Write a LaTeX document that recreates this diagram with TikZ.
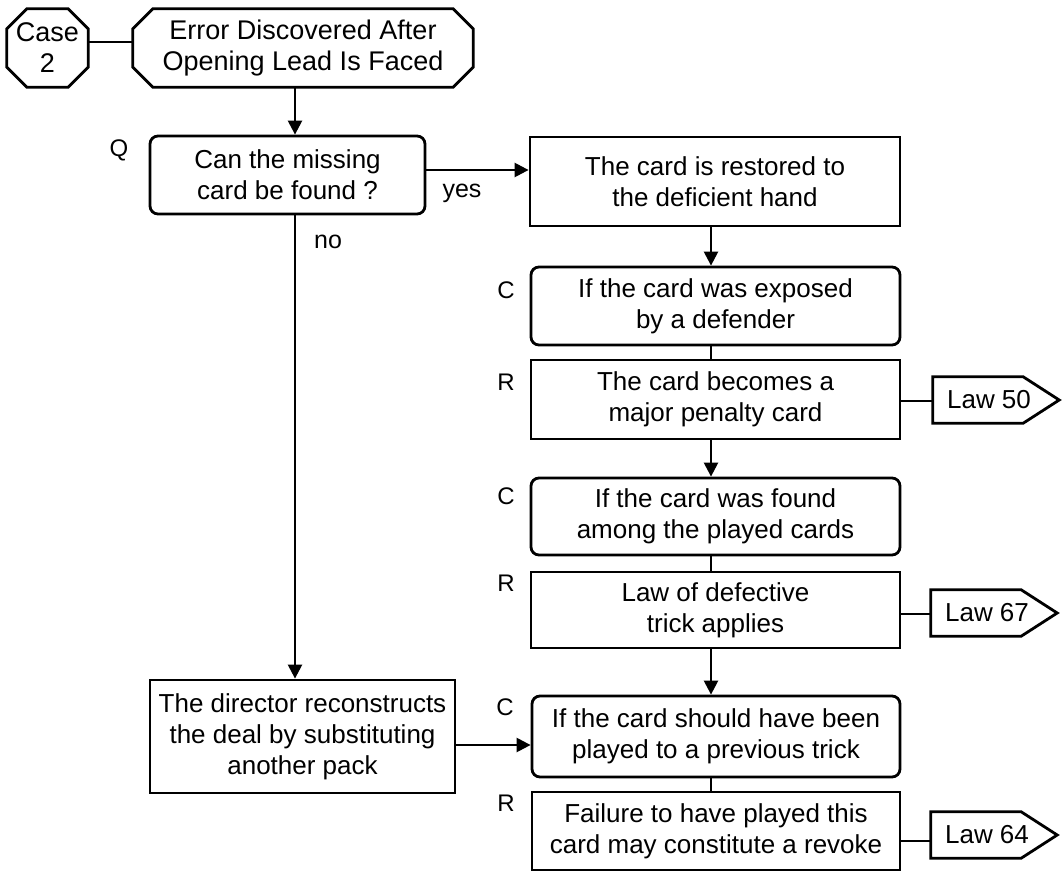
\documentclass[tikz,border=0pt]{standalone}
\usepackage{fontspec}
\setmainfont{Liberation Sans}
\usetikzlibrary{arrows.meta,calc}
\newcommand\octpath[2]{%
  \draw[boxline] ($(#1.north west)+(#2,0)$) -- ($(#1.north east)+(-#2,0)$) -- ($(#1.north east)+(0,#2)$) -- ($(#1.south east)+(0,-#2)$) -- ($(#1.south east)+(-#2,0)$) -- ($(#1.south west)+(#2,0)$) -- ($(#1.south west)+(0,-#2)$) -- ($(#1.north west)+(0,#2)$) -- cycle;}
\newcommand\lawpath[1]{%
  \draw[boxline] (#1.north west) -- ($(#1.north east)+(-22,0)$) -- ($(#1.east)+(14,0)$) -- ($(#1.south east)+(-22,0)$) -- (#1.south west) -- cycle;}
\tikzset{
  boxline/.style={line width=2.8pt, line join=miter},
  base/.style={inner sep=0pt, align=center, font=\fontsize{26}{31}\selectfont},
  sq/.style={base, draw, boxline, rectangle},
  rnd/.style={sq, rounded corners=8pt},
  plain/.style={base, draw=none},
  big/.style={font=\fontsize{27}{31}\selectfont},
  lbl/.style={inner sep=0pt, font=\fontsize{24}{28}\selectfont},
  yn/.style={inner sep=0pt, font=\fontsize{25}{29}\selectfont},
  conn/.style={line width=2.4pt},
  arr/.style={conn, -{Triangle[length=14pt,width=14pt]}},
}
\begin{document}
\begin{tikzpicture}[x=1pt,y=-1pt]
\useasboundingbox (0,0) rectangle (1062,872);
% top octagons
\node[plain, big, minimum width=81pt, minimum height=78pt] (case) at (47.5,48) {Case\\2};
\node[plain, big, minimum width=340pt, minimum height=78pt] (title) at (303,48) {Error Discovered After\\Opening Lead Is Faced};
\octpath{case}{20}
\octpath{title}{20}
% boxes
\node[rnd, minimum width=275pt, minimum height=78pt] (q) at (287.5,175) {Can the missing\\card be found ?};
\node[sq, minimum width=370pt, minimum height=89pt] (restore) at (715,181.5) {The card is restored to\\the deficient hand};
\node[rnd, minimum width=369pt, minimum height=78pt] (c1) at (715.5,306) {If the card was exposed\\by a defender};
\node[sq, minimum width=369pt, minimum height=79pt] (r1) at (715.5,399.5) {The card becomes a\\major penalty card};
\node[rnd, minimum width=369pt, minimum height=77pt] (c2) at (715.5,516.5) {If the card was found\\among the played cards};
\node[sq, minimum width=369pt, minimum height=76pt] (r2) at (715.5,610) {Law of defective\\trick applies};
\node[rnd, minimum width=368pt, minimum height=81pt] (c3) at (716,736.5) {If the card should have been\\played to a previous trick};
\node[sq, minimum width=368pt, minimum height=78pt] (r3) at (716,831) {Failure to have played this\\card may constitute a revoke};
\node[sq, minimum width=305pt, minimum height=113pt] (dir) at (302.5,736.5) {The director reconstructs\\the deal by substituting\\another pack};
% law tags
\node[plain, minimum width=112pt, minimum height=46pt] (law50) at (989,400) {Law 50};
\node[plain, minimum width=112pt, minimum height=46pt] (law67) at (987,613) {Law 67};
\node[plain, minimum width=112pt, minimum height=46pt] (law64) at (987,835) {Law 64};
\lawpath{law50}
\lawpath{law67}
\lawpath{law64}
% labels
\node[lbl] (lq) at (119,150) {Q};
\node[lbl] (lc1) at (506,290) {C};
\node[lbl] (lr1) at (506,382) {R};
\node[lbl] (lc2) at (506,496) {C};
\node[lbl] (lr2) at (506,583) {R};
\node[lbl] (lc3) at (505,707) {C};
\node[lbl] (lr3) at (506,803) {R};
\node[yn] (lyes) at (462,193) {yes};
\node[yn] (lno) at (328,242) {no};
% helper coordinates
\coordinate (xa) at (295,0);
\coordinate (xb) at (711,0);
\coordinate (yt) at (0,42);
\coordinate (ya) at (0,170);
\coordinate (yd) at (0,745);
\coordinate (y50) at (0,401);
\coordinate (y67) at (0,614);
\coordinate (yl) at (0,841);
% connectors
\draw[conn] (case.east |- yt) -- (title.west |- yt);
\draw[arr] (title.south -| xa) -- (q.north -| xa);
\draw[arr] (q.east |- ya) -- (restore.west |- ya);
\draw[arr] (q.south -| xa) -- (dir.north -| xa);
\draw[arr] (restore.south -| xb) -- (c1.north -| xb);
\draw[conn] (c1.south -| xb) -- (r1.north -| xb);
\draw[arr] (r1.south -| xb) -- (c2.north -| xb);
\draw[conn] (c2.south -| xb) -- (r2.north -| xb);
\draw[arr] (r2.south -| xb) -- (c3.north -| xb);
\draw[conn] (c3.south -| xb) -- (r3.north -| xb);
\draw[arr] (dir.east |- yd) -- (c3.west |- yd);
\draw[conn] (r1.east |- y50) -- (law50.west |- y50);
\draw[conn] (r2.east |- y67) -- (law67.west |- y67);
\draw[conn] (r3.east |- yl) -- (law64.west |- yl);
\end{tikzpicture}
\end{document}
